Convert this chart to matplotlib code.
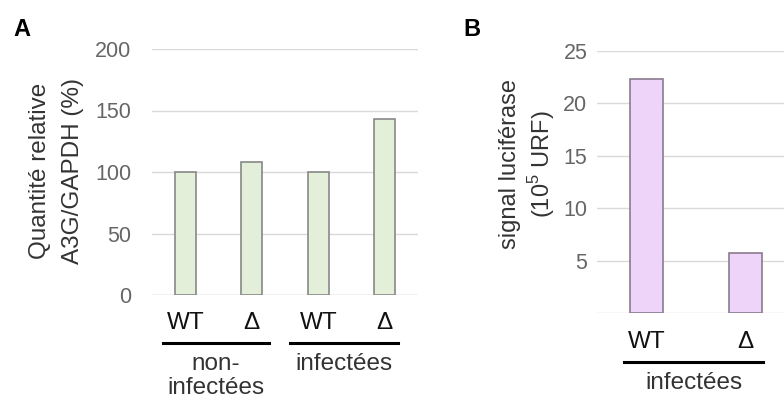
import numpy as np
import matplotlib
matplotlib.use("Agg")
import matplotlib.pyplot as plt
import matplotlib.transforms as mtransforms

plt.rcParams['font.family'] = ['Liberation Sans', 'DejaVu Sans']
plt.rcParams['mathtext.fontset'] = 'custom'
plt.rcParams['mathtext.rm'] = 'Liberation Sans'

# panel A data
a_labels = ['WT', 'Δ', 'WT', 'Δ']
a_values = [100, 108, 100, 143]
a_groups = ['non-\ninfectées', 'infectées']
a_yticks = [0, 50, 100, 150, 200]

# panel B data
b_labels = ['WT', 'Δ']
b_values = [22.3, 5.7]
b_group = 'infectées'
b_yticks = [5, 10, 15, 20, 25]

green = '#e3efd9'
violet = '#efd4fa'
gridc = '#d9d9d9'
tickc = '#666666'
textc = '#333333'

fig = plt.figure(figsize=(7.84, 3.98), dpi=100)

# ---- panel A
axA = fig.add_axes([152/784, 1-295/398, 266/784, 246/398])
xa = np.arange(len(a_values))
axA.bar(xa, a_values, width=0.32, color=green, edgecolor='#888888', linewidth=1.2, zorder=3)
axA.set_ylim(0, 200)
axA.set_xlim(-0.5, len(a_values)-0.5)
axA.set_yticks(a_yticks)
axA.yaxis.grid(True, color=gridc, linewidth=1, zorder=0)
for s in axA.spines.values():
    s.set_visible(False)
axA.tick_params(axis='y', length=0, pad=15, labelsize=15.5, labelcolor=tickc)
axA.set_xticks(xa)
axA.set_xticklabels(a_labels)
axA.tick_params(axis='x', length=0, pad=12, labelsize=17.5, labelcolor='#111111')
axA.axhline(0, color=gridc, lw=1, zorder=1)

trA = mtransforms.blended_transform_factory(axA.transData, axA.transAxes)
for (x0, x1), txt in zip([(-0.33, 1.26), (1.58, 3.2)], a_groups):
    axA.plot([x0, x1], [-0.195, -0.195], color='black', lw=2.2, transform=trA, clip_on=False)
    axA.text((x0+x1)/2, -0.235, txt, transform=trA, ha='center', va='top',
             fontsize=17.5, color=textc, linespacing=1.15)

fig.text(40/784, 1-171/398, 'Quantité relative', rotation=90, ha='center', va='center',
         fontsize=17.5, color=textc)
fig.text(73/784, 1-171/398, 'A3G/GAPDH (%)', rotation=90, ha='center', va='center',
         fontsize=17.5, color=textc)
fig.text(13/784, 1-36/398, 'A', fontsize=17, fontweight='bold', color='black')

# ---- panel B
axB = fig.add_axes([597/784, 1-313/398, 187/784, 262/398])
xb = np.arange(len(b_values))
axB.bar(xb, b_values, width=0.33, color=violet, edgecolor='#8a7a8e', linewidth=1.2, zorder=3)
axB.set_ylim(0, 25)
axB.set_xlim(-0.5, 1.39)
axB.set_yticks(b_yticks)
axB.yaxis.grid(True, color=gridc, linewidth=1, zorder=0)
axB.axhline(0, color=gridc, lw=1, zorder=1)
for s in axB.spines.values():
    s.set_visible(False)
axB.tick_params(axis='y', length=0, pad=7, labelsize=15.5, labelcolor=tickc)
axB.set_xticks(xb)
axB.set_xticklabels(b_labels)
axB.tick_params(axis='x', length=0, pad=13, labelsize=17.5, labelcolor='#111111')

trB = mtransforms.blended_transform_factory(axB.transData, axB.transAxes)
axB.plot([-0.23, 1.18], [-0.188, -0.188], color='black', lw=2.2, transform=trB, clip_on=False)
axB.text((-0.23+1.18)/2, -0.225, b_group, transform=trB, ha='center', va='top',
         fontsize=17.5, color=textc)

fig.text(510/784, 1-164/398, 'signal luciférase', rotation=90, ha='center', va='center',
         fontsize=17, color=textc)
fig.text(542/784, 1-164/398, '(10$^{5}$ URF)', rotation=90, ha='center', va='center',
         fontsize=17, color=textc)
fig.text(463/784, 1-36/398, 'B', fontsize=17, fontweight='bold', color='black')

fig.savefig('out.png', dpi=100)
